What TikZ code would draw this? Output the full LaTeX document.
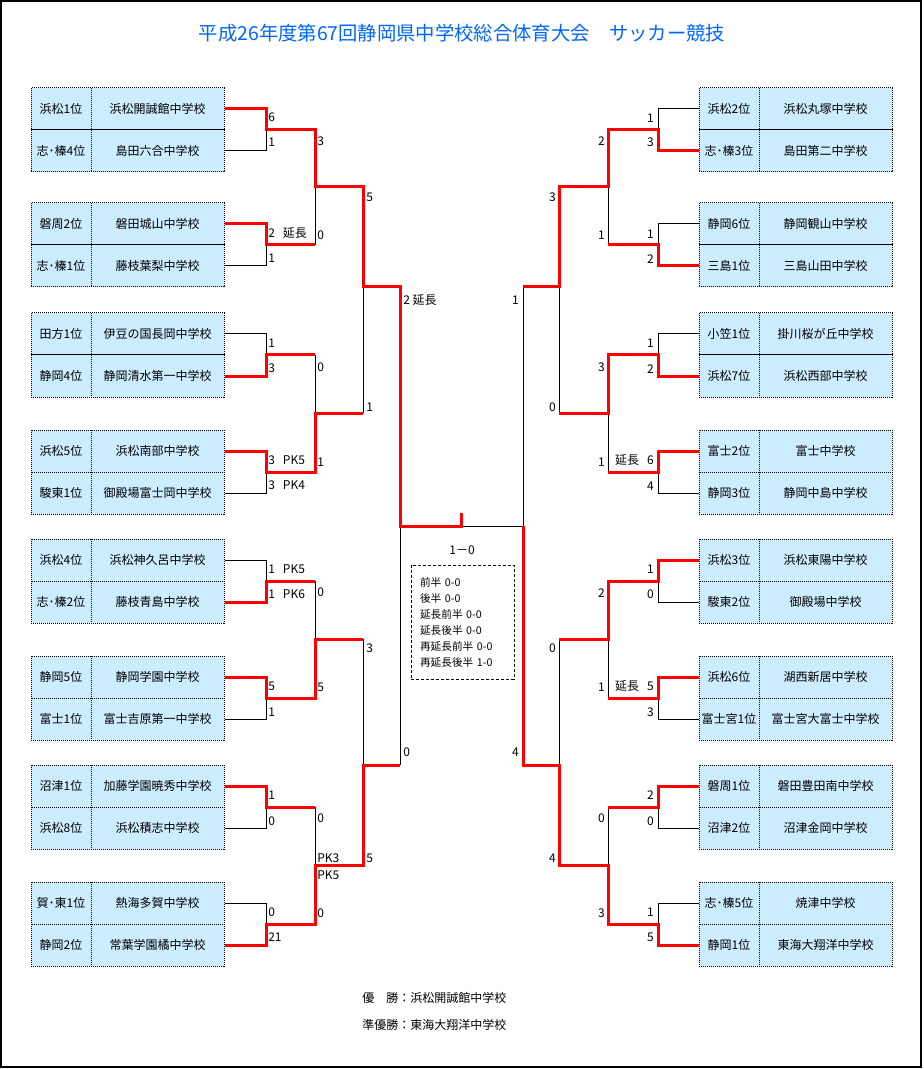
\documentclass[tikz,border=0pt]{standalone}
\usepackage{fontspec}
\setmainfont{Noto Sans CJK JP}
\usepackage{xcolor}
\usepackage{tikz}
\definecolor{boxblue}{RGB}{204,236,255}
\definecolor{titleblue}{RGB}{0,102,255}
\newcommand{\sgap}{\hspace{6pt}}

\begin{document}
\begin{tikzpicture}[x=0.75pt, y=-0.75pt,
    rankbox/.style={draw, line width=0.75pt, dash pattern=on 0.75pt off 0.75pt, fill=boxblue, minimum width=45pt, minimum height=31.5pt, inner sep=0pt, font=\fontsize{9pt}{11pt}\selectfont},
    namebox/.style={rankbox, minimum width=99.75pt},
    win/.style={draw=red, line width=2.25pt},
    lose/.style={draw=black, line width=0.75pt},
    score/.style={inner sep=0pt, font=\fontsize{9pt}{11pt}\selectfont}
  ]
  \useasboundingbox (0,0) rectangle (923,1069);
  \draw[line width=1.125pt] (1,1) rectangle (921,1067);
  \node[inner sep=0pt, text=titleblue, font=\fontsize{14.5pt}{16pt}\selectfont] (title) at (462,33) {平成26年度第67回静岡県中学校総合体育大会　サッカー競技};

  % teams
  \foreach \i/\y/\rk/\nm in {1/109/浜松1位/浜松開誠館中学校, 2/151/志･榛4位/島田六合中学校,
      3/224/磐周2位/磐田城山中学校, 4/266/志･榛1位/藤枝葉梨中学校,
      5/334/田方1位/伊豆の国長岡中学校, 6/376/静岡4位/静岡清水第一中学校,
      7/451/浜松5位/浜松南部中学校, 8/493/駿東1位/御殿場富士岡中学校,
      9/560/浜松4位/浜松神久呂中学校, 10/602/志･榛2位/藤枝青島中学校,
      11/677/静岡5位/静岡学園中学校, 12/719/富士1位/富士吉原第一中学校,
      13/786/沼津1位/加藤学園暁秀中学校, 14/828/浜松8位/浜松積志中学校,
      15/903/賀･東1位/熱海多賀中学校, 16/945/静岡2位/常葉学園橘中学校}{
    \node[rankbox] (lr\i) at (61,\y) {\rk};
    \node[namebox] (ln\i) at (157.5,\y) {\nm};
  }
  \foreach \i/\y/\rk/\nm in {1/109/浜松2位/浜松丸塚中学校, 2/151/志･榛3位/島田第二中学校,
      3/224/静岡6位/静岡観山中学校, 4/266/三島1位/三島山田中学校,
      5/334/小笠1位/掛川桜が丘中学校, 6/376/浜松7位/浜松西部中学校,
      7/451/富士2位/富士中学校, 8/493/静岡3位/静岡中島中学校,
      9/560/浜松3位/浜松東陽中学校, 10/602/駿東2位/御殿場中学校,
      11/677/浜松6位/湖西新居中学校, 12/719/富士宮1位/富士宮大富士中学校,
      13/786/磐周1位/磐田豊田南中学校, 14/828/沼津2位/沼津金岡中学校,
      15/903/志･榛5位/焼津中学校, 16/945/静岡1位/東海大翔洋中学校}{
    \node[rankbox] (rr\i) at (729,\y) {\rk};
    \node[namebox] (rn\i) at (825.5,\y) {\nm};
  }

  % junctions
  \foreach \k/\y in {1/130, 2/245, 3/355, 4/472, 5/581, 6/698, 7/807, 8/924}{
    \coordinate (ja\k) at (266,\y);
    \coordinate (la\k) at (315,\y);
    \coordinate (jb\k) at (658,\y);
    \coordinate (ra\k) at (608,\y);
  }
  \foreach \k/\y in {1/187, 2/413, 3/639, 4/865}{
    \coordinate (lb\k) at (363,\y);
    \coordinate (rb\k) at (559,\y);
  }
  \coordinate (lc1) at (400,287);
  \coordinate (lc2) at (400,765);
  \coordinate (rc1) at (523,287);
  \coordinate (rc2) at (523,765);
  \coordinate (champ) at (461,526);
  \coordinate (champtop) at (461,513);
  \coordinate (fin) at (523,526);

  % losers
  \draw[lose] (ln2.east) -| (ja1) (ln4.east) -| (ja2) (ln5.east) -| (ja3) (ln8.east) -| (ja4)
    (ln9.east) -| (ja5) (ln12.east) -| (ja6) (ln14.east) -| (ja7) (ln15.east) -| (ja8);
  \draw[lose] (la2) -- (la2 |- lb1) (la3) -- (la3 |- lb2) (la5) -- (la5 |- lb3) (la7) -- (la7 |- lb4);
  \draw[lose] (lb2) -- (lb2 |- lc1) (lb3) -- (lb3 |- lc2);
  \draw[lose] (lc2) -- (lc2 |- champ) (champ) -- (fin) (rc1) -- (fin);
  \draw[lose] (rr1.west) -| (jb1) (rr3.west) -| (jb2) (rr5.west) -| (jb3) (rr8.west) -| (jb4)
    (rr10.west) -| (jb5) (rr12.west) -| (jb6) (rr14.west) -| (jb7) (rr15.west) -| (jb8);
  \draw[lose] (ra2) -- (ra2 |- rb1) (ra4) -- (ra4 |- rb2) (ra6) -- (ra6 |- rb3) (ra7) -- (ra7 |- rb4);
  \draw[lose] (rb2) -- (rb2 |- rc1) (rb3) -- (rb3 |- rc2);

  % winners
  \draw[win] (ln1.east) -| (ja1) -- (la1) |- (lb1) |- (lc1) |- (champ) -- (champtop);
  \draw[win] (ln3.east) -| (ja2) -- (la2);
  \draw[win] (ln6.east) -| (ja3) -- (la3);
  \draw[win] (ln7.east) -| (ja4) -- (la4) |- (lb2);
  \draw[win] (ln10.east) -| (ja5) -- (la5);
  \draw[win] (ln11.east) -| (ja6) -- (la6) |- (lb3);
  \draw[win] (ln13.east) -| (ja7) -- (la7);
  \draw[win] (ln16.east) -| (ja8) -- (la8) |- (lb4) |- (lc2);
  \draw[win] (rr2.west) -| (jb1) -- (ra1) |- (rb1) |- (rc1);
  \draw[win] (rr4.west) -| (jb2) -- (ra2);
  \draw[win] (rr6.west) -| (jb3) -- (ra3) |- (rb2);
  \draw[win] (rr7.west) -| (jb4) -- (ra4);
  \draw[win] (rr9.west) -| (jb5) -- (ra5) |- (rb3);
  \draw[win] (rr11.west) -| (jb6) -- (ra6);
  \draw[win] (rr13.west) -| (jb7) -- (ra7);
  \draw[win] (rr16.west) -| (jb8) -- (ra8) |- (rb4) |- (rc2) -- (fin);

  % scores, left
  \foreach \y/\t [count=\k] in {117/6, 142/1, 233/2\sgap 延長, 258/1, 343/1, 368/3, 460/3\sgap PK5, 485/3\sgap PK4,
      569/1\sgap PK5, 594/1\sgap PK6, 686/5, 712/1, 795/1, 821/0, 912/0, 937/21}
    \node[score, anchor=west] (sa\k) at (268,\y) {\t};
  \foreach \y/\t [count=\k] in {141/3, 235/0, 367/0, 462/1, 592/0, 687/5, 818/0, 858/PK3, 875/PK5, 913/0}
    \node[score, anchor=west] (sb\k) at (317,\y) {\t};
  \foreach \y/\t [count=\k] in {197/5, 407/1, 648/3, 858/5}
    \node[score, anchor=west] (sc\k) at (366,\y) {\t};
  \node[score, anchor=west] (sd1) at (403,300) {2 延長};
  \node[score, anchor=west] (sd2) at (403,752) {0};

  % scores, right
  \foreach \y/\t [count=\k] in {118/1, 142/3, 234/1, 259/2, 343/1, 369/2, 460/延長\sgap 6, 486/4,
      569/1, 594/0, 686/延長\sgap 5, 712/3, 795/2, 821/0, 912/1, 937/5}
    \node[score, anchor=east] (ta\k) at (654,\y) {\t};
  \foreach \y/\t [count=\k] in {141/2, 235/1, 367/3, 462/1, 593/2, 687/1, 818/0, 913/3}
    \node[score, anchor=east] (tb\k) at (605,\y) {\t};
  \foreach \y/\t [count=\k] in {197/3, 407/0, 648/0, 858/4}
    \node[score, anchor=east] (tc\k) at (556,\y) {\t};
  \node[score, anchor=east] (td1) at (519,300) {1};
  \node[score, anchor=east] (td2) at (519,752) {4};

  % final
  \node[score] (result) at (462,550) {1－0};
  \node[draw, line width=0.75pt, dash pattern=on 2.25pt off 1.5pt, text width=63.75pt, inner xsep=6.75pt,
    minimum height=85.5pt, align=left, font=\fontsize{8pt}{12pt}\selectfont] (detail) at (462.5,622)
    {前半 0-0\\後半 0-0\\延長前半 0-0\\延長後半 0-0\\再延長前半 0-0\\再延長後半 1-0};
  \node[score, anchor=west] (winner) at (362,998) {優　勝：浜松開誠館中学校};
  \node[score, anchor=west] (runnerup) at (362,1025) {準優勝：東海大翔洋中学校};
\end{tikzpicture}
\end{document}
